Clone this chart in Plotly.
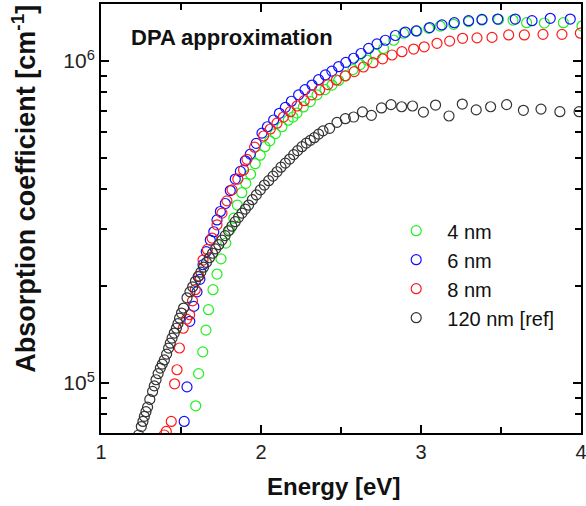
import plotly.graph_objects as go

# ---- data ----
x_4nm = [1.592, 1.61, 1.636, 1.656, 1.672, 1.70, 1.725, 1.75, 1.78, 1.805, 1.83, 1.852, 1.88, 1.905,
         1.935, 1.964, 1.995, 2.025, 2.055, 2.09, 2.131, 2.17, 2.2, 2.225, 2.265, 2.308, 2.35, 2.4,
         2.444, 2.485, 2.527, 2.575, 2.62, 2.6625, 2.715, 2.766, 2.83, 2.891, 2.975, 3.048, 3.12,
         3.204, 3.2975, 3.381, 3.485, 3.575, 3.66, 3.771, 3.89, 4.006]
y_4nm = [8.5e4, 1.07e5, 1.25e5, 1.46e5, 1.69e5, 1.95e5, 2.18e5, 2.43e5, 2.72e5, 2.99e5, 3.25e5, 3.57e5,
         3.9e5, 4.17e5, 4.45e5, 4.8e5, 5.1e5, 5.42e5, 5.65e5, 5.95e5, 6.25e5, 6.55e5, 6.7e5, 6.89e5,
         7.2e5, 7.48e5, 7.85e5, 8.15e5, 8.42e5, 8.7e5, 8.98e5, 9.4e5, 9.75e5, 1.007e6, 1.05e6, 1.094e6,
         1.16e6, 1.22e6, 1.24e6, 1.263e6, 1.284e6, 1.30e6, 1.325e6, 1.34e6, 1.346e6, 1.34e6, 1.315e6,
         1.312e6, 1.315e6, 1.284e6]

x_6nm = [1.52, 1.5375, 1.555, 1.58, 1.6, 1.618, 1.6375, 1.658, 1.683, 1.705, 1.725, 1.746, 1.777,
         1.808, 1.839, 1.871, 1.902, 1.933, 1.97, 2.006, 2.04, 2.079, 2.115, 2.152, 2.19, 2.235, 2.275,
         2.319, 2.36, 2.402, 2.443, 2.485, 2.53, 2.579, 2.625, 2.6725, 2.725, 2.777, 2.84, 2.902, 2.97,
         3.054, 3.131, 3.208, 3.2975, 3.381, 3.479, 3.589, 3.694, 3.808, 3.933]
y_6nm = [7.6e4, 9.73e4, 1.555e5, 1.73e5, 1.92e5, 2.1e5, 2.33e5, 2.56e5, 2.78e5, 2.95e5, 3.21e5, 3.41e5,
         3.61e5, 3.96e5, 4.3e5, 4.54e5, 4.9e5, 5.14e5, 5.55e5, 5.97e5, 6.25e5, 6.56e5, 6.88e5, 7.18e5,
         7.5e5, 7.85e5, 8.15e5, 8.42e5, 8.75e5, 9.05e5, 9.3e5, 9.6e5, 9.9e5, 1.02e6, 1.055e6, 1.094e6,
         1.13e6, 1.16e6, 1.2e6, 1.23e6, 1.24e6, 1.27e6, 1.294e6, 1.315e6, 1.334e6, 1.346e6, 1.35e6,
         1.35e6, 1.334e6, 1.357e6, 1.35e6]

x_8nm = [1.395, 1.408, 1.439, 1.46, 1.475, 1.49, 1.514, 1.535, 1.554, 1.572, 1.589, 1.612, 1.6375,
         1.665, 1.694, 1.725, 1.756, 1.787, 1.819, 1.855, 1.891, 1.912, 1.96, 2.016, 2.058, 2.1, 2.14,
         2.183, 2.225, 2.27, 2.318, 2.366, 2.418, 2.471, 2.527, 2.583, 2.64, 2.7, 2.76, 2.819, 2.881,
         2.954, 3.02, 3.1, 3.179, 3.26, 3.35, 3.444, 3.548, 3.646, 3.7625, 3.881, 3.996]
y_8nm = [6.9e4, 7.08e4, 7.6e4, 9.95e4, 1.10e5, 1.285e5, 1.48e5, 1.58e5, 1.63e5, 1.8e5, 1.95e5, 2.15e5,
         2.41e5, 2.6e5, 2.82e5, 3.1e5, 3.37e5, 3.68e5, 3.98e5, 4.3e5, 4.59e5, 4.95e5, 5.4e5, 5.85e5,
         6.15e5, 6.41e5, 6.7e5, 6.96e5, 7.25e5, 7.53e5, 7.85e5, 8.13e5, 8.45e5, 8.73e5, 9.0e5, 9.27e5,
         9.58e5, 9.88e5, 1.016e6, 1.044e6, 1.069e6, 1.089e6, 1.107e6, 1.135e6, 1.153e6, 1.176e6,
         1.18e6, 1.184e6, 1.205e6, 1.205e6, 1.21e6, 1.21e6, 1.22e6]

x_ref = [1.235, 1.252, 1.262, 1.271, 1.281, 1.291, 1.305, 1.3225, 1.333, 1.344, 1.357, 1.371, 1.383,
         1.396, 1.41, 1.4225, 1.433, 1.444, 1.458, 1.471, 1.481, 1.491, 1.503, 1.516, 1.5375, 1.556,
         1.573, 1.59, 1.607, 1.624, 1.641, 1.659, 1.678, 1.697, 1.716, 1.736, 1.756, 1.776, 1.797,
         1.818, 1.839, 1.86, 1.881, 1.902, 1.9225, 1.946, 1.971, 1.996, 2.021, 2.048, 2.075, 2.1,
         2.125, 2.152, 2.179, 2.204, 2.229, 2.256, 2.283, 2.308, 2.333, 2.36, 2.3875, 2.429, 2.475,
         2.527, 2.579, 2.634, 2.69, 2.753, 2.8125, 2.879, 2.947, 3.015, 3.091, 3.175, 3.258, 3.345,
         3.435, 3.535, 3.64, 3.75, 3.868, 3.988]
y_ref = [6.9e4, 7.33e4, 7.6e4, 7.88e4, 8.15e4, 8.42e4, 8.9e4, 9.42e4, 9.8e4, 1.024e5, 1.07e5, 1.113e5,
         1.145e5, 1.18e5, 1.23e5, 1.284e5, 1.33e5, 1.379e5, 1.43e5, 1.48e5, 1.53e5, 1.59e5, 1.65e5,
         1.71e5, 1.84e5, 1.92e5, 1.99e5, 2.07e5, 2.14e5, 2.21e5, 2.29e5, 2.37e5, 2.45e5, 2.53e5,
         2.61e5, 2.69e5, 2.78e5, 2.87e5, 2.97e5, 3.07e5, 3.17e5, 3.27e5, 3.37e5, 3.47e5, 3.57e5,
         3.71e5, 3.84e5, 3.98e5, 4.12e5, 4.25e5, 4.39e5, 4.53e5, 4.68e5, 4.82e5, 4.96e5, 5.12e5,
         5.27e5, 5.42e5, 5.56e5, 5.67e5, 5.78e5, 5.93e5, 6.07e5, 6.18e5, 6.45e5, 6.62e5, 6.7e5,
         6.95e5, 6.78e5, 7.15e5, 7.32e5, 7.21e5, 7.25e5, 6.94e5, 7.3e5, 6.75e5, 7.35e5, 7.05e5,
         7.21e5, 7.32e5, 7.03e5, 7.09e5, 6.96e5, 6.96e5]

series_names = ["4 nm", "6 nm", "8 nm", "120 nm [ref]"]
series_colors = ["#22ee22", "#1010ff", "#ff1a1a", "#333333"]

x_ticks = [1, 2, 3, 4]
x_minor = [1.5, 2.5, 3.5]
y_ticks = [1e5, 1e6]
y_ticktext = ["10<sup>5</sup>", "10<sup>6</sup>"]
y_minor = [7e4, 8e4, 9e4, 2e5, 3e5, 4e5, 5e5, 6e5, 7e5, 8e5, 9e5]

FONT = "Arial, Liberation Sans, sans-serif"

fig = go.Figure()
for xs, ys, name, col in zip([x_4nm, x_6nm, x_8nm, x_ref], [y_4nm, y_6nm, y_8nm, y_ref],
                             series_names, series_colors):
    fig.add_trace(go.Scatter(
        x=xs, y=ys, mode="markers", name="\u00a0\u00a0" + name,
        marker=dict(symbol="circle-open", size=10, color=col, line=dict(width=1.2, color=col)),
    ))

axis_common = dict(
    showline=True, linecolor="black", linewidth=2, mirror="ticks",
    ticks="inside", ticklen=8, tickwidth=1.5, tickcolor="black",
    showgrid=False, zeroline=False, ticklabeloverflow="allow",
)

fig.update_xaxes(
    range=[1, 4], tickvals=x_ticks, ticktext=[str(v) for v in x_ticks],
    tickfont=dict(family=FONT, size=20, color="#222222"),
    minor=dict(tickvals=x_minor, ticks="inside", ticklen=6, tickwidth=1.5, tickcolor="black"),
    **axis_common,
)
fig.update_yaxes(
    type="log", range=[4.845, 6.177], tickvals=y_ticks, ticktext=y_ticktext,
    tickfont=dict(family=FONT, size=21, color="#222222"),
    minor=dict(tickvals=y_minor, ticks="inside", ticklen=6, tickwidth=1.5, tickcolor="black"),
    **axis_common,
)

fig.update_layout(
    width=586, height=506,
    margin=dict(l=101, r=5, t=4, b=73, autoexpand=False),
    paper_bgcolor="white", plot_bgcolor="white",
    font=dict(family=FONT, color="black"),
    showlegend=True,
    legend=dict(
        x=0.615, y=0.517, xanchor="left", yanchor="top",
        bgcolor="rgba(0,0,0,0)", borderwidth=0,
        font=dict(family=FONT, size=20, color="#111111"),
        itemsizing="trace",
    ),
    annotations=[
        dict(text="<b>DPA approximation</b>", xref="paper", yref="paper",
             x=0.058, y=0.921, xanchor="left", yanchor="middle", showarrow=False,
             font=dict(family=FONT, size=22, color="#111111")),
        dict(text="<b>Energy [eV]</b>", xref="paper", yref="paper",
             x=0.485, y=-0.125, xanchor="center", yanchor="middle", showarrow=False,
             font=dict(family=FONT, size=24, color="#111111")),
        dict(text="<b>Absorption coefficient [cm<sup>-1</sup>]</b>", xref="paper", yref="paper",
             x=-0.16, y=0.570, xanchor="center", yanchor="middle", showarrow=False,
             textangle=-90, font=dict(family=FONT, size=27, color="#111111")),
    ],
)

fig.write_html("out.html", config={"displayModeBar": False},
               post_script="document.body.style.margin='0px';")
